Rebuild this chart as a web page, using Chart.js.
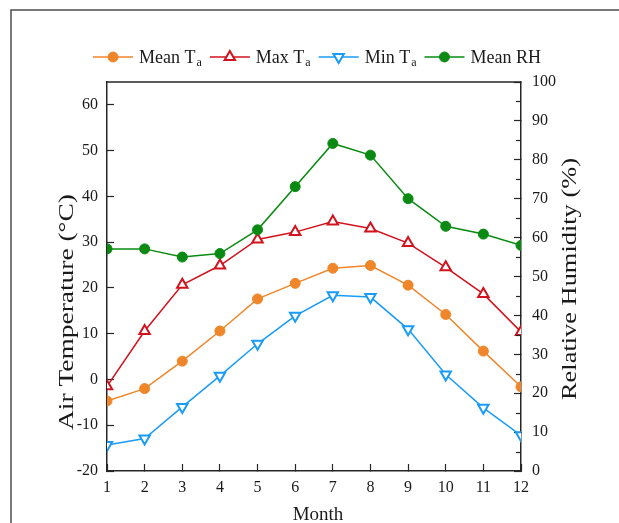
<!DOCTYPE html>
<html>
<head>
<meta charset="utf-8">
<script src="https://cdn.jsdelivr.net/npm/chart.js@4/dist/chart.umd.min.js"></script>
<style>
  html, body { margin: 0; padding: 0; background: #fff; }
  #wrap { width: 619px; height: 523px; position: relative; }
</style>
</head>
<body>
<div id="wrap"><canvas id="myChart" width="619" height="523"></canvas></div>
<script>
const months = ['1', '2', '3', '4', '5', '6', '7', '8', '9', '10', '11', '12'];
const meanTa = [-4.7, -2.0, 4.0, 10.6, 17.6, 21.0, 24.3, 24.9, 20.6, 14.2, 6.2, -1.6];
const maxTa  = [-1.5, 10.6, 20.7, 24.9, 30.6, 32.2, 34.5, 33.0, 29.8, 24.5, 18.7, 10.4];
const minTa  = [-14.3, -12.9, -6.0, 0.8, 7.8, 13.9, 18.4, 18.0, 11.0, 1.1, -6.2, -12.2];
const meanRH = [57.1, 57.1, 55.0, 55.9, 62.0, 73.1, 84.2, 81.2, 70.0, 62.9, 60.9, 58.0];
const tempTicks = [-20, 60, 10];   // min, last labelled, step
const rhTicks = [0, 100, 10];

const FONT = "'Liberation Serif', 'Times New Roman', serif";
const AXIS = '#262626';

const colors = {
  mean: '#F0862A',
  max: '#D2121C',
  min: '#1A9BF5',
  rh: '#0A8A12'
};

// legend items (subscript drawn separately)
const legendItems = [
  { text: 'Mean T', sub: 'a', color: colors.mean, style: 'circle', fill: true, rot: 0 },
  { text: 'Max T', sub: 'a', color: colors.max, style: 'triangle', fill: false, rot: 0 },
  { text: 'Min T', sub: 'a', color: colors.min, style: 'triangle', fill: false, rot: 180 },
  { text: 'Mean RH', sub: '', color: colors.rh, style: 'circle', fill: true, rot: 0 }
];

const decorPlugin = {
  id: 'decor',
  afterDraw(chart) {
    const ctx = chart.ctx;
    const area = chart.chartArea;
    ctx.save();

    // outer figure frame
    ctx.strokeStyle = '#4d4d4d';
    ctx.lineWidth = 1.5;
    ctx.beginPath();
    ctx.moveTo(11, 523);
    ctx.lineTo(11, 10);
    ctx.lineTo(619, 10);
    ctx.stroke();

    // top edge of plot box
    ctx.strokeStyle = AXIS;
    ctx.lineWidth = 1.5;
    ctx.beginPath();
    ctx.moveTo(area.left, area.top);
    ctx.lineTo(area.right, area.top);
    ctx.stroke();

    // minor ticks on the right axis
    const y2 = chart.scales.y2;
    ctx.lineWidth = 1.2;
    for (let v = 5; v < 100; v += 10) {
      const py = Math.round(y2.getPixelForValue(v)) + 0.5;
      ctx.beginPath();
      ctx.moveTo(area.right, py);
      ctx.lineTo(area.right - 5, py);
      ctx.stroke();
    }

    // axis titles
    ctx.fillStyle = '#1a1a1a';
    ctx.textAlign = 'center';
    ctx.textBaseline = 'middle';
    ctx.font = '19px ' + FONT;
    ctx.fillText('Month', (area.left + area.right) / 2 + 4, 515);

    function vTitle(text, cx, cy, len) {
      ctx.save();
      ctx.font = '20px ' + FONT;
      const w = ctx.measureText(text).width;
      ctx.translate(cx, cy);
      ctx.rotate(-Math.PI / 2);
      ctx.scale(len / w, 1);
      ctx.fillText(text, 0, 0);
      ctx.restore();
    }
    vTitle('Air Temperature (°C)', 68, 312, 236);
    vTitle('Relative Humidity (%)', 571, 279, 242);

    // legend
    const ly = 57;
    const lineLen = 40;
    ctx.font = '18px ' + FONT;
    const subFont = '12px ' + FONT;
    let total = 0;
    const widths = legendItems.map(it => {
      ctx.font = '18px ' + FONT;
      let w = ctx.measureText(it.text).width;
      if (it.sub) { ctx.font = subFont; w += ctx.measureText(it.sub).width + 1; }
      return w;
    });
    widths.forEach(w => { total += lineLen + 6 + w; });
    total += 8 * (legendItems.length - 1);
    let x = 317 - total / 2;
    legendItems.forEach((it, i) => {
      ctx.strokeStyle = it.color;
      ctx.lineWidth = 1.5;
      ctx.beginPath();
      ctx.moveTo(x, ly);
      ctx.lineTo(x + lineLen, ly);
      ctx.stroke();
      ctx.fillStyle = it.fill ? it.color : '#ffffff';
      ctx.lineWidth = it.fill ? 1 : 2;
      Chart.helpers.drawPoint(ctx, {
        pointStyle: it.style,
        radius: it.style === 'circle' ? 5 : 6,
        rotation: it.rot,
        borderWidth: it.fill ? 1 : 2
      }, x + lineLen / 2, ly);
      x += lineLen + 6;
      ctx.fillStyle = '#1a1a1a';
      ctx.textAlign = 'left';
      ctx.textBaseline = 'alphabetic';
      ctx.font = '18px ' + FONT;
      ctx.fillText(it.text, x, ly + 6);
      let tx = x + ctx.measureText(it.text).width + 1;
      if (it.sub) {
        ctx.font = subFont;
        ctx.fillText(it.sub, tx, ly + 9);
      }
      x += widths[i] + 8;
    });

    ctx.restore();
  }
};

function series(label, data, color, style, filled, rot, axis) {
  return {
    label: label,
    data: data,
    yAxisID: axis,
    clip: 0,
    borderColor: color,
    borderWidth: 1.5,
    backgroundColor: filled ? color : '#ffffff',
    pointBackgroundColor: filled ? color : '#ffffff',
    pointBorderColor: color,
    pointBorderWidth: filled ? 1 : 2,
    pointStyle: style,
    pointRotation: rot,
    pointRadius: style === 'circle' ? 5 : 6,
    pointHoverRadius: style === 'circle' ? 5 : 6,
    tension: 0,
    fill: false
  };
}

const ctx = document.getElementById('myChart');

new Chart(ctx, {
  type: 'line',
  data: {
    labels: months,
    datasets: [
      series('Mean RH', meanRH, colors.rh, 'circle', true, 0, 'y2'),
      series('Max Ta', maxTa, colors.max, 'triangle', false, 0, 'y'),
      series('Mean Ta', meanTa, colors.mean, 'circle', true, 0, 'y'),
      series('Min Ta', minTa, colors.min, 'triangle', false, 180, 'y')
    ]
  },
  options: {
    responsive: false,
    animation: false,
    devicePixelRatio: 1,
    layout: { padding: { top: 82, left: 0, right: 0, bottom: 0 } },
    plugins: {
      legend: { display: false },
      tooltip: { enabled: false },
      title: { display: false }
    },
    scales: {
      x: {
        type: 'category',
        offset: false,
        grid: {
          drawOnChartArea: false,
          tickLength: -7,
          tickWidth: 1.2,
          tickColor: AXIS
        },
        border: { display: true, color: AXIS, width: 1.5 },
        ticks: {
          color: '#1a1a1a',
          font: { family: FONT, size: 16 },
          padding: 14,
          maxRotation: 0,
          autoSkip: false
        },
        afterFit: (scale) => { scale.height = 52; }
      },
      y: {
        position: 'left',
        min: tempTicks[0],
        max: 65,
        grid: {
          drawOnChartArea: false,
          tickLength: -7,
          tickWidth: 1.2,
          tickColor: AXIS
        },
        border: { display: true, color: AXIS, width: 1.5 },
        ticks: {
          stepSize: tempTicks[2],
          includeBounds: false,
          color: '#1a1a1a',
          font: { family: FONT, size: 16 },
          padding: 16
        },
        afterFit: (scale) => { scale.width = 107; }
      },
      y2: {
        position: 'right',
        min: rhTicks[0],
        max: rhTicks[1],
        grid: {
          drawOnChartArea: false,
          tickLength: -7,
          tickWidth: 1.2,
          tickColor: AXIS
        },
        border: { display: true, color: AXIS, width: 1.5 },
        ticks: {
          stepSize: rhTicks[2],
          color: '#1a1a1a',
          font: { family: FONT, size: 16 },
          padding: 18
        },
        afterFit: (scale) => { scale.width = 98; }
      }
    }
  },
  plugins: [decorPlugin]
});
</script>
</body>
</html>
